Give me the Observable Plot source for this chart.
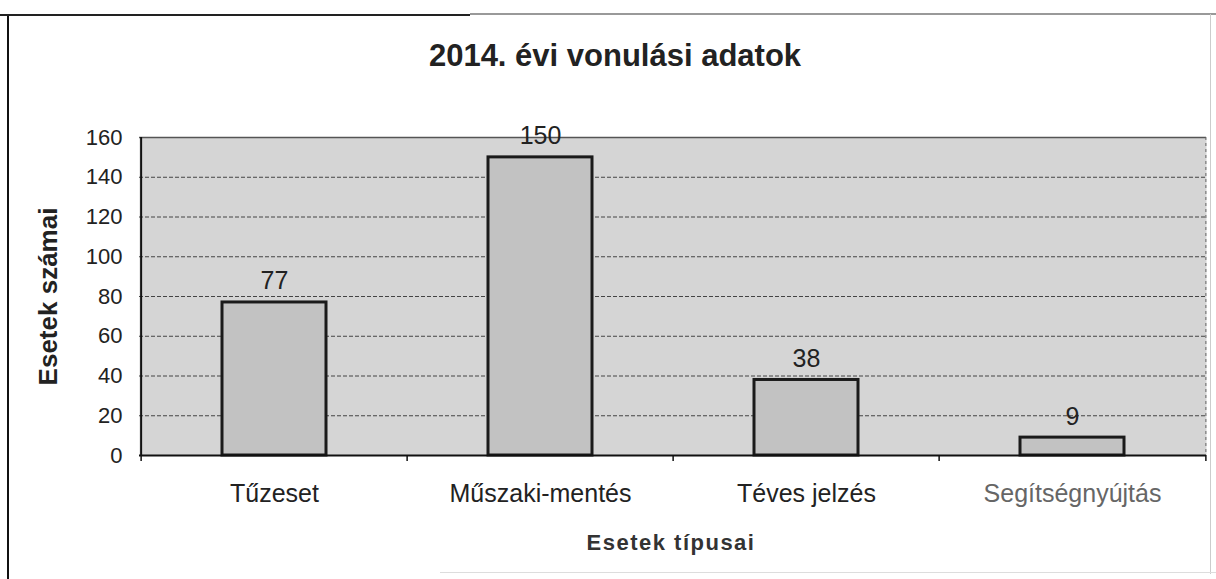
<!DOCTYPE html>
<html><head><meta charset="utf-8">
<script src="https://cdn.jsdelivr.net/npm/d3@7"></script>
<script src="https://cdn.jsdelivr.net/npm/@observablehq/plot@0.6"></script>
<style>
html,body{margin:0;padding:0;background:#fff;}
#wrap{position:relative;width:1216px;height:579px;overflow:hidden;font-family:"Liberation Sans",Arial,sans-serif;}
#frameL{position:absolute;left:7px;top:14px;width:2px;height:570px;background:#111;}
#frameT1{position:absolute;left:0;top:14px;width:470px;height:2px;background:#222;}
#frameT2{position:absolute;left:470px;top:13px;width:746px;height:2px;background:#999;}
#frameR{position:absolute;left:1210px;top:14px;width:1px;height:560px;background:#ccc;}
#frameB{position:absolute;left:440px;top:572px;width:776px;height:1px;background:#ddd;}
#title{position:absolute;left:0;top:38px;width:1216px;text-align:center;font-weight:bold;font-size:31px;color:#222;padding-left:14px;box-sizing:border-box;}
#chart{position:absolute;left:0;top:120px;}
#xlabel{position:absolute;left:0;top:530px;width:1216px;text-align:center;font-weight:bold;font-size:22px;color:#333;padding-left:126px;box-sizing:border-box;letter-spacing:1.5px;}
</style></head>
<body><div id="wrap">
<div id="frameL"></div><div id="frameT1"></div><div id="frameT2"></div><div id="frameR"></div><div id="frameB"></div>
<div id="title">2014. évi vonulási adatok</div>
<div id="chart"></div>
<div id="xlabel">Esetek típusai</div>
</div>
<script>
const categories = ["Tűzeset", "Műszaki-mentés", "Téves jelzés", "Segítségnyújtás"];
const values = [77, 150, 38, 9];
const yTicks = [0, 20, 40, 60, 80, 100, 120, 140, 160];
const gridTicks = [20, 40, 60, 80, 100, 120, 140];
const labelColors = ["#222", "#222", "#222", "#666"];

const data = categories.map((c, i) => ({cat: c, value: values[i], color: labelColors[i]}));

const W = 1216, H = 459, mL = 139, mR = 10;
const bandW = (W - mL - mR) / categories.length;

const chart = Plot.plot({
  width: W, height: H,
  marginLeft: mL, marginRight: mR, marginTop: 17, marginBottom: 124,
  style: {background: "transparent", fontFamily: "'Liberation Sans', Arial, sans-serif", overflow: "visible"},
  x: {domain: categories, padding: 0, axis: null},
  y: {domain: [0, 160], axis: null},
  marks: [
    Plot.frame({fill: "#d5d5d5", stroke: null}),
    Plot.ruleY(gridTicks, {stroke: "#444", strokeWidth: 1, strokeDasharray: "4,2"}),
    Plot.ruleY([160], {stroke: "#555", strokeWidth: 1.5}),
    Plot.ruleX([categories[categories.length - 1]], {stroke: "#666", strokeDasharray: "3,3", dx: bandW / 2}),
    Plot.barY(data, {x: "cat", y: "value", fill: "#c2c2c2", stroke: "#1a1a1a", strokeWidth: 3, insetLeft: 81, insetRight: 81}),
    Plot.text(data, {x: "cat", y: "value", text: d => String(d.value), dy: -21, fontSize: 25, fill: "#222"}),
    Plot.ruleY([0], {stroke: "#111", strokeWidth: 2}),
    Plot.ruleX([categories[0]], {stroke: "#111", strokeWidth: 2, dx: -bandW / 2}),
    Plot.ruleX(categories, {y1: 0, y2: 0, insetBottom: -6, stroke: "#111", strokeWidth: 1.5, dx: -bandW / 2}),
    Plot.ruleX([categories[categories.length - 1]], {y1: 0, y2: 0, insetBottom: -6, stroke: "#111", strokeWidth: 1.5, dx: bandW / 2}),
    Plot.tickY(yTicks, {y: d => d, x: categories[0], dx: -bandW / 2 - 7, stroke: "#111", insetLeft: bandW / 2 - 7, insetRight: bandW / 2 - 7}),
    Plot.text(yTicks, {y: d => d, frameAnchor: "left", dx: -17, textAnchor: "end", fontSize: 22, fill: "#222", text: d => String(d)}),
    Plot.text(data, {x: "cat", y: 0, dy: 38, text: "cat", fontSize: 25, fill: "color"}),
    Plot.text(["Esetek számai"], {frameAnchor: "left", dx: -91, rotate: -90, textAnchor: "middle", fontSize: 26, fontWeight: "bold", fill: "#222", style: "letter-spacing:1.5px"})
  ]
});
document.getElementById("chart").appendChild(chart);
</script>
</body></html>
